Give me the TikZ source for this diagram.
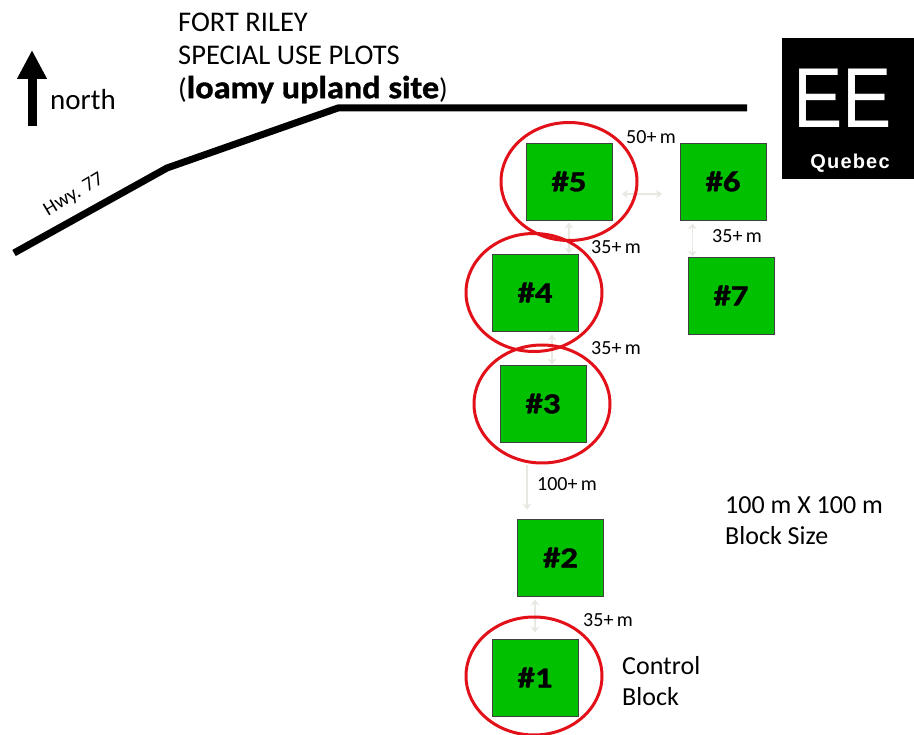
\documentclass[tikz,border=0pt]{standalone}
\usepackage{fontspec}
\setmainfont{Carlito}
\newfontfamily\arialfont{Liberation Sans}
\newfontfamily\heavyfont[FakeBold=1.2, FakeStretch=1.2]{Carlito Bold}
\newfontfamily\sitefont[FakeBold=1.2, FakeStretch=1.07]{Carlito Bold}
\usetikzlibrary{arrows.meta, positioning, calc, shapes.geometric}
\definecolor{blockgreen}{RGB}{0,192,0}
\definecolor{ringred}{RGB}{226,16,24}
\definecolor{gapgray}{RGB}{232,232,226}
\tikzset{
	block/.style={rectangle, draw=black!75, line width=0.9pt, fill=blockgreen, minimum width=86pt,
		minimum height=77pt, inner sep=0pt, font=\heavyfont\fontsize{29}{29}\selectfont},
	ring/.style={ellipse, draw=ringred, line width=3pt, minimum width=136pt,
		minimum height=118pt, inner sep=0pt},
	gaparr/.style={{Stealth[length=6pt,width=9pt]}-{Stealth[length=6pt,width=9pt]}, gapgray, line width=1.2pt},
	lbl/.style={font=\fontsize{20}{20}\selectfont, inner sep=0pt},
	note/.style={font=\fontsize{26}{31}\selectfont, inner sep=0pt, align=left, anchor=west},
	head/.style={font=\fontsize{28.5}{33.5}\selectfont, inner sep=0pt, align=left, anchor=west},
	road/.style={line width=7pt, line join=bevel},
}

\begin{document}
\begin{tikzpicture}[x=1pt, y=-1pt]
	\useasboundingbox (0,0) rectangle (914,735);
	% blocks
	\node[block] (b5) at (569,181.5) {\#5};
	\node[block] (b6) at (723,181.5) {\#6};
	\node[block] (b7) at (731,295.5) {\#7};
	\node[block] (b4) at (535,292.5) {\#4};
	\node[block] (b3) at (543,403.5) {\#3};
	\node[block] (b2) at (560.5,557.5) {\#2};
	\node[block] (b1) at (535,677.5) {\#1};
	% gaps
	\coordinate (g56a) at (622,194);
	\coordinate (g56b) at (662,194);
	\draw[gaparr] (g56a) -- (g56b);
	\draw[gaparr, shorten <=2pt] (b5.south) -- (b5.south |- b4.north);
	\draw[gaparr, shorten <=3pt] ($(b6.south west)+(13,0)$) -- ($(b7.north west)+(5,0)$);
	\draw[gaparr, shorten <=3pt] ($(b4.south)+(17,0)$) -- ($(b3.north)+(9,0)$);
	\draw[-{Stealth[length=6pt,width=9pt]}, gapgray, line width=1.2pt, shorten <=23pt, shorten >=9pt] ($(b3.south)+(-16,0)$) -- ($(b2.north)+(-33.5,0)$);
	\draw[gaparr, shorten <=3pt, shorten >=6pt] (b1.north |- b2.south) -- (b1.north);
	% rings
	\node[ring] (r5) at (569,181.5) {};
	\node[ring] (r4) at (534,292.5) {};
	\node[ring] (r3) at (542,404) {};
	\node[ring] (r1) at (534,676) {};
	% gap labels
	\node[lbl] (l56) at (651,137) {50+\,m};
	\node[lbl] (l54) at (616,247) {35+\,m};
	\node[lbl] (l67) at (737,236) {35+\,m};
	\node[lbl] (l43) at (616,348) {35+\,m};
	\node[lbl] (l32) at (567,484) {100+\,m};
	\node[lbl] (l21) at (608,620) {35+\,m};
	% notes
	\node[note] (sizenote) at (725,521) {100 m X 100 m\\Block Size};
	\node[note] (ctrlnote) at (622,681) {Control\\Block};
	% road
	\coordinate (rd1) at (14,253);
	\coordinate (rd2) at (167,168);
	\coordinate (rd3) at (338,108);
	\coordinate (rd4) at (747,108);
	\draw[road] (rd1) -- (rd2) -- (rd3) -- (rd4);
	\node[font=\fontsize{20}{20}\selectfont, rotate=31, inner sep=0pt] (hwy) at (74,195) {Hwy. 77};
	% north arrow
	\coordinate (nfoot) at (32,126);
	\coordinate (ntip) at (32,50);
	\draw[line width=9pt, -{Triangle[length=29pt,width=28pt]}] (nfoot) -- (ntip);
	\node[font=\fontsize{29}{29}\selectfont, anchor=west, inner sep=0pt] (north) at (50,100) {north};
	% title
	\node[head] (title) at (178,58) {FORT RILEY\\SPECIAL USE PLOTS\\({\sitefont\fontsize{32}{33.5}\selectfont loamy upland site})};
	% logo
	\node[rectangle, fill=black, minimum width=132pt, minimum height=141pt, inner sep=0pt] (logo) at (848,108.5) {};
	\node[text=white, font=\arialfont\fontsize{85}{85}\selectfont, inner sep=0pt, xscale=0.87] (ee) at (842.5,98) {EE};
	\node[text=white, font=\arialfont\fontsize{20}{20}\selectfont\bfseries\addfontfeature{LetterSpace=6}, inner sep=0pt] (quebec) at (850,163) {Quebec};
\end{tikzpicture}
\end{document}
